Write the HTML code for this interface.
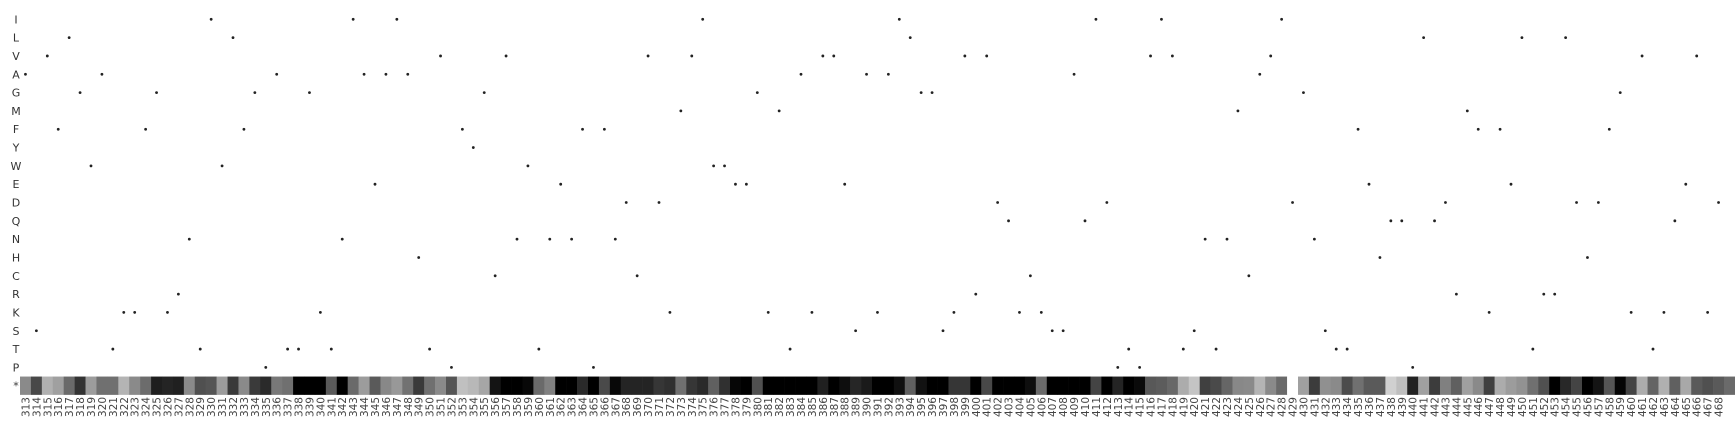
<!DOCTYPE html>
<html><head><meta charset="utf-8"><style>
html,body{margin:0;padding:0;background:#fff;}
svg{display:block;}
text{font-family:"DejaVu Sans","Liberation Sans",sans-serif;}
</style></head><body>
<svg id="chart" width="1735" height="424" viewBox="0 0 1735 424" xmlns="http://www.w3.org/2000/svg">
<g id="ylabels"></g>
<g id="dots"></g>
<g id="cells"></g>
<g id="xlabels"></g>
</svg>
<script>
const rows = ["I","L","V","A","G","M","F","Y","W","E","D","Q","N","H","C","R","K","S","T","P","*"];
const startPos = 313;
const sequence = "ASVFLGWATKKFGKRNTIWLFGP" + "ATTGKTNIAEAIAHTVPFYGCVNW" + "TNENFPFNDCVDKMVIWWEEGKMT" +
  "AKVVESAKAILGGSKVRVDQKCK" + "SSAQIDPTPVIVTSNTNMCAVIDG" + "NSTTFEHQQPLQDRMFKFELTRRL" + "DHDFGKVTKQEVKD";
const stopValues = [138,72,176,160,106,51,156,112,112,180,138,108,30,36,32,138,80,85,156,58,138,58,42,
  120,112,0,0,0,90,0,106,156,90,136,152,114,58,112,138,85,192,184,166,20,0,0,8,
  106,128,0,0,42,0,74,8,36,36,36,54,48,112,54,42,96,48,6,0,80,0,0,0,
  0,0,32,0,14,38,26,0,0,16,96,18,0,0,54,54,0,72,0,0,0,14,106,0,
  0,0,0,68,0,36,0,10,88,92,104,172,196,64,74,102,136,138,180,138,106,255,160,60,
  144,138,76,112,90,90,208,190,34,160,60,128,96,160,138,64,172,156,146,112,80,0,40,68,
  0,20,85,4,68,172,100,176,96,168,90,80,90,106];

const NS = "http://www.w3.org/2000/svg";
const x0 = 20, x1 = 1724, yTop = 10.15, rowH = 18.32;
const n = sequence.length;
const colW = (x1 - x0) / n;
const xScale = i => x0 + colW * (i + 0.5);
const yScale = r => yTop + rowH * (r + 0.5);

const yl = document.getElementById('ylabels');
rows.forEach((r, k) => {
  const t = document.createElementNS(NS, 'text');
  
  
  t.setAttribute('x', 16); t.setAttribute('y', yScale(k) + 4);
  t.setAttribute('text-anchor', 'middle'); t.setAttribute('font-size', '11');
  t.setAttribute('fill', '#333');
  t.textContent = r; yl.appendChild(t);
});

const dg = document.getElementById('dots');
for (let i = 0; i < n; i++) {
  const r = rows.indexOf(sequence[i]);
  if (r < 0) continue;
  const c = document.createElementNS(NS, 'circle');
  
  
  c.setAttribute('cx', xScale(i)); c.setAttribute('cy', yScale(r));
  c.setAttribute('r', 1.4); c.setAttribute('fill', '#222');
  dg.appendChild(c);
}

const cg = document.getElementById('cells');
const sr = rows.indexOf('*');
stopValues.forEach((v, i) => {
  const rc = document.createElementNS(NS, 'rect');
  
  
  rc.setAttribute('x', x0 + colW * i); rc.setAttribute('y', yTop + rowH * sr);
  rc.setAttribute('width', colW + 0.3); rc.setAttribute('height', rowH);
  rc.setAttribute('fill', 'rgb(' + v + ',' + v + ',' + v + ')');
  cg.appendChild(rc);
});

const xg = document.getElementById('xlabels');
for (let i = 0; i < n; i++) {
  const t = document.createElementNS(NS, 'text');
  
  
  const x = xScale(i) + 4, y = 397;
  t.setAttribute('x', x); t.setAttribute('y', y);
  t.setAttribute('transform', 'rotate(-90 ' + x + ' ' + y + ')');
  t.setAttribute('text-anchor', 'end'); t.setAttribute('font-size', '10.5');
  t.setAttribute('fill', '#444');
  t.textContent = String(startPos + i); xg.appendChild(t);
}
</script>
</body></html>
